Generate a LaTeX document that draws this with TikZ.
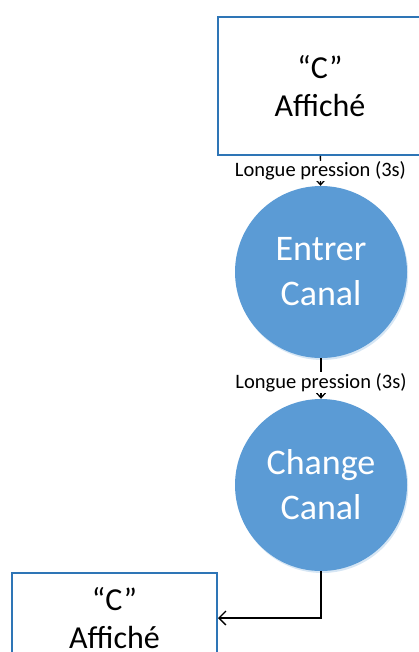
\documentclass[tikz,border=0pt]{standalone}
\usepackage{fontspec}
\setmainfont{Carlito}
\usetikzlibrary{arrows.meta,shadows}
\definecolor{bleu}{RGB}{91,155,213}
\definecolor{bord}{RGB}{46,117,182}
\tikzstyle{etat}=[circle,fill=bleu,text=white,minimum size=172pt,align=center,
  font=\fontsize{36}{45}\selectfont,
  drop shadow={shadow xshift=1.2pt,shadow yshift=-2pt,fill=bleu!25,opacity=1}]
\tikzstyle{boite}=[rectangle,draw=bord,line width=2pt,fill=white,align=center,
  font=\fontsize{32}{38}\selectfont]
\tikzstyle{post}=[-{Straight Barb[length=5pt,width=9pt]},line width=1.3pt]
\tikzstyle{lbl}=[fill=white,inner sep=1pt,font=\fontsize{20.5}{24}\selectfont]

\begin{document}
\begin{tikzpicture}[x=1pt,y=-1pt]
    \useasboundingbox (0,0) rectangle (418,652);
    % etats
    \node [boite,minimum width=204pt,minimum height=138pt] (aff1) at (320,86)  {``C''\\Affiché};
    \node [etat] (ent) at (321,272) {Entrer\\Canal};
    \node [etat] (chg) at (321,485) {Change\\Canal};
    \node [boite,minimum width=205pt,minimum height=90pt] (aff2) at (114.5,618) {``C''\\Affiché};

    % transitions
    \draw [post] (aff1) -- node [lbl] {Longue pression (3s)} (ent);
    \draw [post] (ent) -- node [lbl,pos=0.6] {Longue pression (3s)} (chg);
    \draw [post,-{Straight Barb[length=7pt,width=14pt]}] (chg.south) |- (aff2.east);
\end{tikzpicture}
\end{document}
